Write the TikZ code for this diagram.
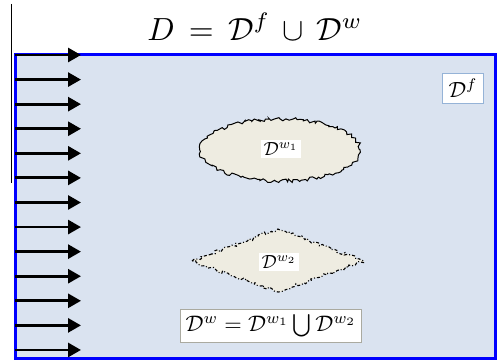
\documentclass[tikz,border=0pt]{standalone}
\usetikzlibrary{arrows.meta,shapes.geometric,decorations.pathmorphing}
\definecolor{domfill}{RGB}{218,227,240}
\definecolor{beige}{RGB}{238,236,225}
\definecolor{lblue}{RGB}{149,179,215}
\definecolor{lgray}{RGB}{170,170,160}
\tikzset{
  flow/.style={line width=2.8pt,-{Triangle[length=13pt,width=14pt]}},
  jag/.style={decorate,decoration={random steps,segment length=2.4pt,amplitude=1.8pt}},
  lbl/.style={fill=white,inner sep=1.2pt,scale=1.9},
  boxed/.style={draw,fill=white,line width=0.8pt}
}
\begin{document}
\begin{tikzpicture}[x=1pt,y=-1pt]
\useasboundingbox (0,0) rectangle (497,363);
\pgfmathsetseed{7}
% domain
\draw[blue,line width=3pt,fill=domfill] (15,55) rectangle (495,358);
% thin vertical line
\draw[line width=0.8pt] (11.5,4) -- (11.5,183);
% inflow arrows
\foreach \i in {0,...,12}{
  \coordinate (s\i) at (15,{55+\i*24.58});
  \coordinate (t\i) at (81,{55+\i*24.58});
  \draw[flow] (s\i) -- (t\i);
}
% title
\node[scale=3.2] (title) at (255,27) {$D\,=\,\mathcal{D}^f\,\cup\,\mathcal{D}^w$};
% Df label
\node[boxed,draw=lblue,scale=2.2,inner sep=2.6pt] (df) at (463,88) {$\mathcal{D}^f$};
% ellipse
\draw[jag,fill=beige,line width=1pt] (280,150) ellipse (80 and 31);
\node (e1) at (280,150) {};
\node[lbl] (w1) at (281,149) {$\mathcal{D}^{w_1}$};
% diamond
\draw[jag,fill=beige,line width=1.1pt,dash pattern=on 3pt off 2pt on 1pt off 2pt]
  (192,261) -- (278,229) -- (364,261) -- (278,292) -- cycle;
\node (d2) at (278,261) {};
\node[lbl] (w2) at (279,262) {$\mathcal{D}^{w_2}$};
% union label
\node[boxed,draw=lgray,scale=2.25,inner sep=2.4pt] (un) at (271,326)
  {$\mathcal{D}^w=\mathcal{D}^{w_1}\bigcup\mathcal{D}^{w_2}$};
\end{tikzpicture}
\end{document}
